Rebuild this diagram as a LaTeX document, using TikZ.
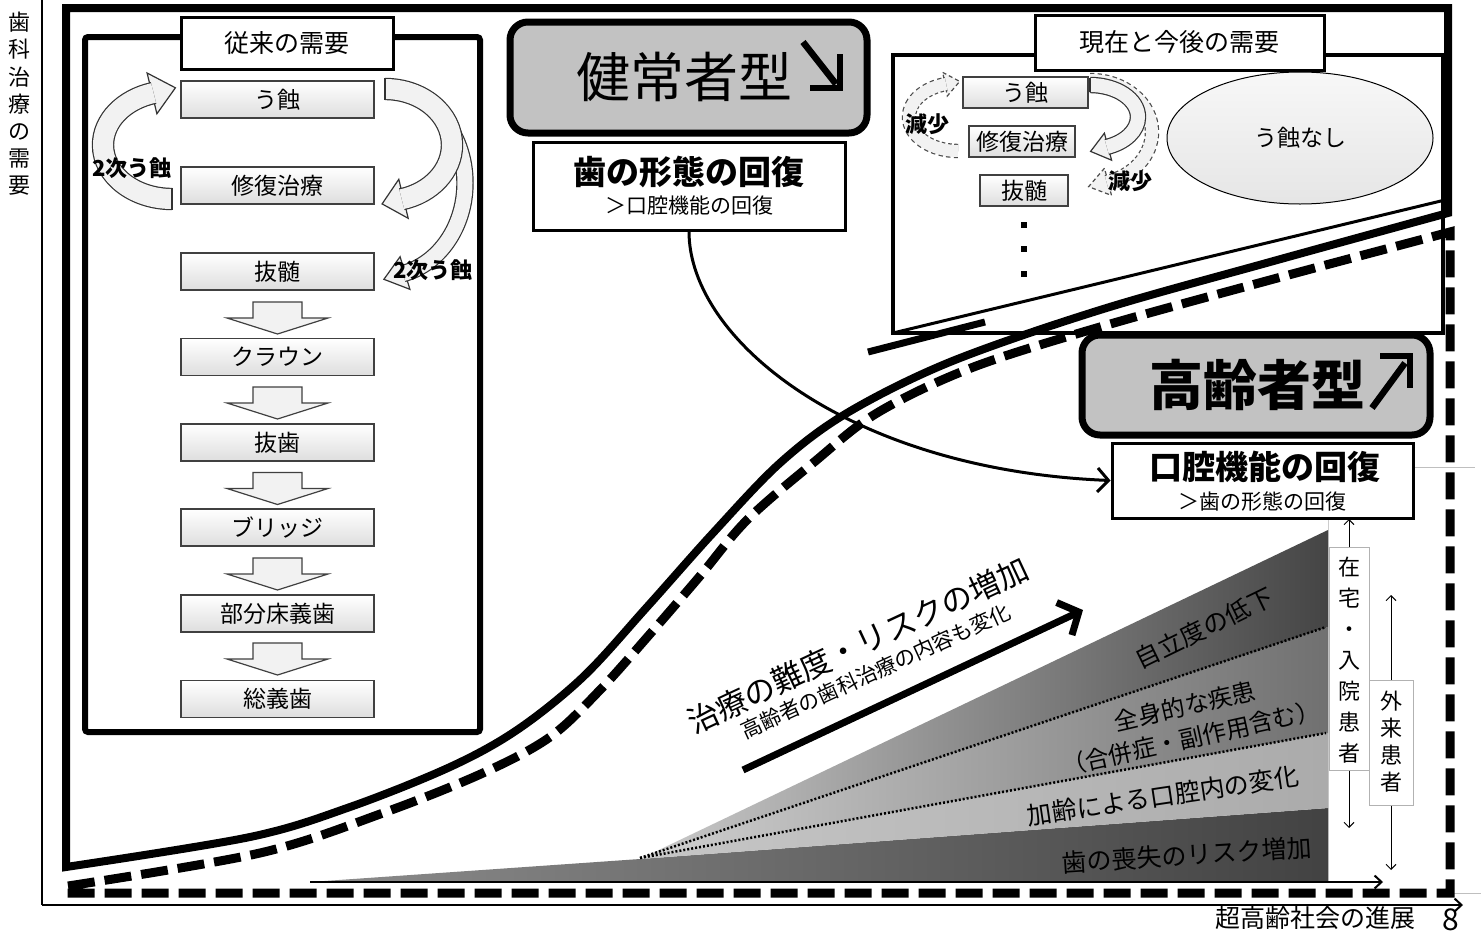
\documentclass[tikz,border=0pt]{standalone}
\usepackage{fontspec}
\setmainfont{Noto Sans CJK JP}
\usetikzlibrary{arrows.meta,shapes.geometric}
\newcommand{\fsz}[1]{\fontsize{#1}{#1}\selectfont}
\colorlet{lt}{black!5}
\colorlet{edgec}{black!80}
\tikzset{
  gbox/.style={draw=black!75, line width=1.2pt, top color=white, bottom color=black!13, inner sep=0pt, font=\fsz{23}},
  wbox/.style={draw=black, fill=white, inner sep=0pt},
  txt/.style={inner sep=0pt},
  headtri/.style={fill=lt, draw=edgec, line width=1.2pt, line join=miter},
  dhead/.style={fill=lt, draw=black!70, line width=1.2pt, dash pattern=on 4pt off 3pt},
  downarr/.pic={\filldraw[fill=black!5, draw=black!75, line width=1.2pt] (-24.5,0) -- (24.5,0) -- (24.5,16) -- (50.5,16) -- (0,32) -- (-50.5,16) -- (-24.5,16) -- cycle;},
  thinarr/.style={line width=1pt, -{Straight Barb[length=5pt,width=10pt]}},
  typebox/.style={draw=black, line width=7pt, fill=black!24, rounded corners=18pt, inner sep=0pt}
}
\begin{document}
\begin{tikzpicture}[x=1pt,y=-1pt]
\useasboundingbox (0,0) rectangle (1481,937);
\fill[white] (0,0) rectangle (1481,937);

% axes
\draw[line width=2pt] (42,0) -- (42,905);
\draw[line width=2pt, -{Straight Barb[length=7pt,width=13pt]}] (42,905) -- (1463,905);
\node[txt, align=center, font=\fontsize{22}{27.2}\selectfont] (ylab) at (20,104) {歯\\科\\治\\療\\の\\需\\要};
\node[txt, font=\fsz{25}] (xlab) at (1315,918) {超高齢社会の進展};
\node[txt, font=\fsz{30}] (pnum) at (1451,920) {8};

% faint lines
\draw[black!25, line width=0.8pt] (1413,467) -- (1475,467);
\draw[black!20, line width=0.8pt] (1328,518) -- (1328,882);
\draw[black!25, line width=0.8pt] (1452,893) -- (1481,893);

% wedge
\shade[left color=black!45, right color=black!74] (310,882) -- (640,859) -- (1328,808) -- (1328,882) -- cycle;
\shade[left color=black!22, right color=black!33] (640,859) -- (1328,733) -- (1328,808) -- cycle;
\shade[left color=black!18, right color=black!56] (640,859) -- (1328,627) -- (1328,733) -- cycle;
\shade[left color=black!20, right color=black!73] (640,859) -- (1328,530) -- (1328,627) -- cycle;
\draw[line width=2.5pt, dash pattern=on 2pt off 2pt] (640,858) -- (1326,627);
\draw[line width=2.5pt, dash pattern=on 2pt off 2pt] (640,858) -- (1326,733);
\draw[line width=2pt, -{Straight Barb[length=7pt,width=13pt]}] (310,882) -- (1383,882);

% right box (current & future demand)
\node[draw=black, fill=white, line width=3.5pt, minimum width=550pt, minimum height=278pt, inner sep=0pt] (newbox) at (1168,194) {};
\node[wbox, line width=3pt, minimum width=289pt, minimum height=55pt, font=\fsz{25}] (newtitle) at (1179.5,42.5) {現在と今後の需要};
\node[draw=black, line width=1pt, ellipse, top color=black!3, bottom color=black!10, minimum width=266pt, minimum height=132pt, inner sep=0pt, font=\fsz{23}] (nocar) at (1300,138) {う蝕なし};
\node[gbox, minimum width=125pt, minimum height=31pt] (n1) at (1025.5,92.5) {う蝕};
\node[gbox, minimum width=106pt, minimum height=31pt] (n2) at (1022,141.5) {修復治療};
\node[gbox, minimum width=88pt, minimum height=31pt] (n3) at (1024,190.5) {抜髄};
\fill (1021,222) rectangle (1027,228);
\fill (1021,246) rectangle (1027,252);
\fill (1021,271) rectangle (1027,277);
% dashed right arrow
\filldraw[dhead] (1104.5,168.2) -- (1088.6,186.7) -- (1111.5,195.4) -- cycle;
\draw[line width=14.4pt, black!70, dash pattern=on 4pt off 3pt] (1090,80) arc[start angle=270, end angle=434.5, x radius=62, y radius=52];
\draw[line width=12pt, lt] (1090,80) arc[start angle=270, end angle=434.5, x radius=62, y radius=52];
% solid right arrow
\filldraw[headtri] (1104.4,133.2) -- (1090.6,151.4) -- (1111.6,160.2) -- cycle;
\draw[line width=16.4pt, edgec] (1090,85) arc[start angle=270, end angle=429.5, x radius=48, y radius=32];
\draw[line width=14pt, lt] (1090,85) arc[start angle=270, end angle=429.5, x radius=48, y radius=32];
\draw[edgec, line width=1.2pt] (1090,77.8) -- (1090,92.2);
% dashed left arrow
\filldraw[dhead] (942.7,72.4) -- (959.7,81.4) -- (947.3,96) -- cycle;
\draw[line width=14.4pt, black!70, dash pattern=on 4pt off 3pt] (958,151) arc[start angle=90, end angle=256, x radius=49, y radius=34];
\draw[line width=12pt, lt] (958,151) arc[start angle=90, end angle=256, x radius=49, y radius=34];
\node[txt, font=\fsz{22}\bfseries] (dec1) at (927,124) {減少};
\node[txt, font=\fsz{22}\bfseries] (dec2) at (1130,181) {減少};

% lines inside right box
\draw[line width=3pt] (893,333) -- (1445,200);
\draw[line width=7pt] (868,352) -- (985,322);

% frames
\draw[line width=8pt, line join=miter] plot[smooth, tension=0.55] coordinates {(66,867) (250,837) (350,807) (450,767) (517,730) (583,677) (647,607) (713,533) (780,463) (847,413) (950,362) (1100,310) (1270,262) (1448,213)} -- (1448,8) -- (66,8) -- cycle;
\draw[line width=9pt, dash pattern=on 27pt off 10pt] plot[smooth, tension=0.55] coordinates {(68,886) (260,853) (383,813) (483,773) (550,737) (600,690) (650,634) (700,576) (747,520) (813,463) (877,413) (971,368) (1100,327) (1270,280) (1450,232)} -- (1450,893) -- (66,893) -- cycle;

% left box (conventional demand)
\node[draw=black, line width=6pt, rounded corners=3pt, minimum width=395pt, minimum height=695pt, inner sep=0pt] (oldbox) at (282.5,384.5) {};
\node[wbox, line width=3pt, minimum width=212pt, minimum height=52pt, font=\fsz{25}] (oldtitle) at (287,43) {従来の需要};
\node[gbox, minimum width=193pt, minimum height=37pt] (o1) at (277.5,99.5) {う蝕};
\node[gbox, minimum width=193pt, minimum height=37pt] (o2) at (277.5,185.5) {修復治療};
\node[gbox, minimum width=193pt, minimum height=37pt] (o3) at (277.5,271.5) {抜髄};
\node[gbox, minimum width=193pt, minimum height=37pt] (o4) at (277.5,357) {クラウン};
\node[gbox, minimum width=193pt, minimum height=37pt] (o5) at (277.5,442.5) {抜歯};
\node[gbox, minimum width=193pt, minimum height=37pt] (o6) at (277.5,527.5) {ブリッジ};
\node[gbox, minimum width=193pt, minimum height=37pt] (o7) at (277.5,613.5) {部分床義歯};
\node[gbox, minimum width=193pt, minimum height=37pt] (o8) at (277.5,699) {総義歯};
\pic at (277.5,302) {downarr};
\pic at (277.5,387) {downarr};
\pic at (277.5,472.5) {downarr};
\pic at (277.5,558) {downarr};
\pic at (277.5,643) {downarr};
% long right arrow
\filldraw[headtri] (400.1,256.7) -- (383.9,279.3) -- (409.9,289.3) -- cycle;
\draw[line width=17.4pt, edgec] (385,90) arc[start angle=270, end angle=437, x radius=80, y radius=93];
\draw[line width=15pt, lt] (385,90) arc[start angle=270, end angle=437, x radius=80, y radius=93];
% short right arrow
\filldraw[headtri] (398.8,179.3) -- (382.1,203.9) -- (408.2,218.3) -- cycle;
\draw[line width=22.4pt, edgec] (385,89) arc[start angle=270, end angle=435.5, x radius=67, y radius=56];
\draw[line width=20pt, lt] (385,89) arc[start angle=270, end angle=435.5, x radius=67, y radius=56];
\draw[edgec, line width=1.2pt] (385,77.8) -- (385,100.2);
% left arrow
\filldraw[headtri] (147.1,73) -- (175.4,87.8) -- (156.9,113.8) -- cycle;
\draw[line width=22.4pt, edgec] (172,199) arc[start angle=90, end angle=254.5, x radius=69, y radius=54];
\draw[line width=20pt, lt] (172,199) arc[start angle=90, end angle=254.5, x radius=69, y radius=54];
\draw[edgec, line width=1.2pt] (172,187.8) -- (172,210.2);
\node[txt, font=\fsz{22}\bfseries] (sec1) at (132,168) {2次う蝕};
\node[txt, font=\fsz{22}\bfseries] (sec2) at (433,270) {2次う蝕};

% healthy type
\node[typebox, minimum width=357pt, minimum height=111pt] (healthy) at (688.5,77.5) {};
\node[txt, font=\fsz{54}] (healthyt) at (684,77) {健常者型};
\draw[line width=6.5pt] (803,42) -- (836,84);
\draw[line width=6.5pt, line join=miter] (810,88) -- (840,88) -- (840,54);
\node[wbox, line width=3pt, minimum width=312pt, minimum height=88pt] (form) at (689,186) {};
\node[txt, font=\fsz{33}\bfseries] (form1) at (689,172) {歯の形態の回復};
\node[txt, font=\fsz{21}] (form2) at (689,206) {＞口腔機能の回復};

% elderly type
\node[typebox, minimum width=348pt, minimum height=100pt] (elder) at (1256,385) {};
\node[txt, font=\fsz{54}\bfseries] (eldert) at (1257,385) {高齢者型};
\draw[line width=6.5pt] (1372,408) -- (1405,363);
\draw[line width=6.5pt, line join=miter] (1380,356) -- (1410,356) -- (1410,388);
\node[wbox, line width=3pt, minimum width=301pt, minimum height=75pt] (func) at (1262.5,480.5) {};
\node[txt, font=\fsz{33}\bfseries] (func1) at (1265,467) {口腔機能の回復};
\node[txt, font=\fsz{21}] (func2) at (1262,502) {＞歯の形態の回復};

% curved connector
\draw[line width=3pt, -{Straight Barb[length=11pt,width=24pt]}] (form.south) .. controls (689,340) and (850,470) .. (func.west);

% difficulty arrow and texts
\draw[line width=7pt, -{Straight Barb[length=16pt,width=36pt]}] (743,770) -- (1083,610);
\node[txt, font=\fsz{31}, rotate=25] (diff) at (858,645) {治療の難度・リスクの増加};
\node[txt, font=\fsz{21}, rotate=24.5] (diff2) at (876,671) {高齢者の歯科治療の内容も変化};
\node[txt, font=\fsz{25}, rotate=26] (w1) at (1204,628) {自立度の低下};
\node[txt, font=\fsz{24}, rotate=13] (w2) at (1185,706) {全身的な疾患};
\node[txt, font=\fsz{24}, rotate=12.5] (w3) at (1191,738) {（合併症・副作用含む）};
\node[txt, font=\fsz{25}, rotate=8.5] (w4) at (1163,796) {加齢による口腔内の変化};
\node[txt, font=\fsz{25}, rotate=3.6] (w5) at (1187,855) {歯の喪失のリスク増加};

% side labels
\node[draw=black!30, fill=white, line width=1pt, minimum width=40pt, minimum height=223pt, inner sep=0pt] (home) at (1349,658.5) {};
\node[txt, align=center, font=\fontsize{22}{31}\selectfont] (homet) at (1349,660) {在\\宅\\・\\入\\院\\患\\者};
\node[draw=black!30, fill=white, line width=1pt, minimum width=44pt, minimum height=125pt, inner sep=0pt] (out) at (1391,742.5) {};
\node[txt, align=center, font=\fontsize{22}{27}\selectfont] (outt) at (1391,742) {外\\来\\患\\者};
\draw[thinarr] (home.north) -- (1349,519);
\draw[thinarr] (home.south) -- (1349,828);
\draw[thinarr] (out.north) -- (1391,595);
\draw[thinarr] (out.south) -- (1391,870);
\end{tikzpicture}
\end{document}
